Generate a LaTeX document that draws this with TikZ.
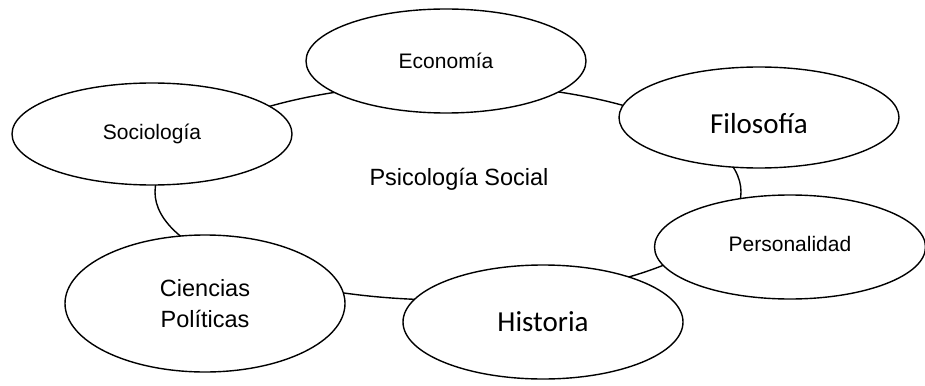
\documentclass[tikz,border=0pt]{standalone}
\usepackage{fontspec}
\setmainfont{Liberation Sans}
\newfontfamily\calib{Carlito}
\usetikzlibrary{shapes.geometric}
\begin{document}
\begin{tikzpicture}[x=1pt,y=-1pt,
  oval/.style={ellipse,draw=black,line width=1.4pt,fill=white,inner sep=0pt},
  smalltxt/.style={font=\fontsize{21}{25}\selectfont},
  bigtxt/.style={font=\fontsize{23.5}{31}\selectfont},
  calitxt/.style={font=\calib\fontsize{29}{34}\selectfont}]
\useasboundingbox (0,0) rectangle (925,385);
% central ellipse
\node[oval,fill=none,minimum width=586pt,minimum height=216pt,
  label={[bigtxt,xshift=11pt,yshift=13pt]center:Psicología Social}] (ps) at (448,192) {};
% surrounding ellipses
\node[oval,smalltxt,minimum width=280pt,minimum height=102pt] (soc) at (152,134) {Sociología};
\node[oval,smalltxt,minimum width=280pt,minimum height=104pt] (eco) at (446,61) {Economía};
\node[oval,minimum width=280pt,minimum height=101pt,
  label={[calitxt,yshift=-6pt]center:Filosofía}] (fil) at (759,117.5) {};
\node[oval,minimum width=271pt,minimum height=104pt,
  label={[smalltxt,yshift=3pt]center:Personalidad}] (per) at (790,247) {};
\node[oval,calitxt,minimum width=280pt,minimum height=114pt] (his) at (543,322) {Historia};
\node[oval,bigtxt,align=center,minimum width=280pt,minimum height=137pt] (cp) at (205,303.5) {Ciencias\\Políticas};
\end{tikzpicture}
\end{document}
